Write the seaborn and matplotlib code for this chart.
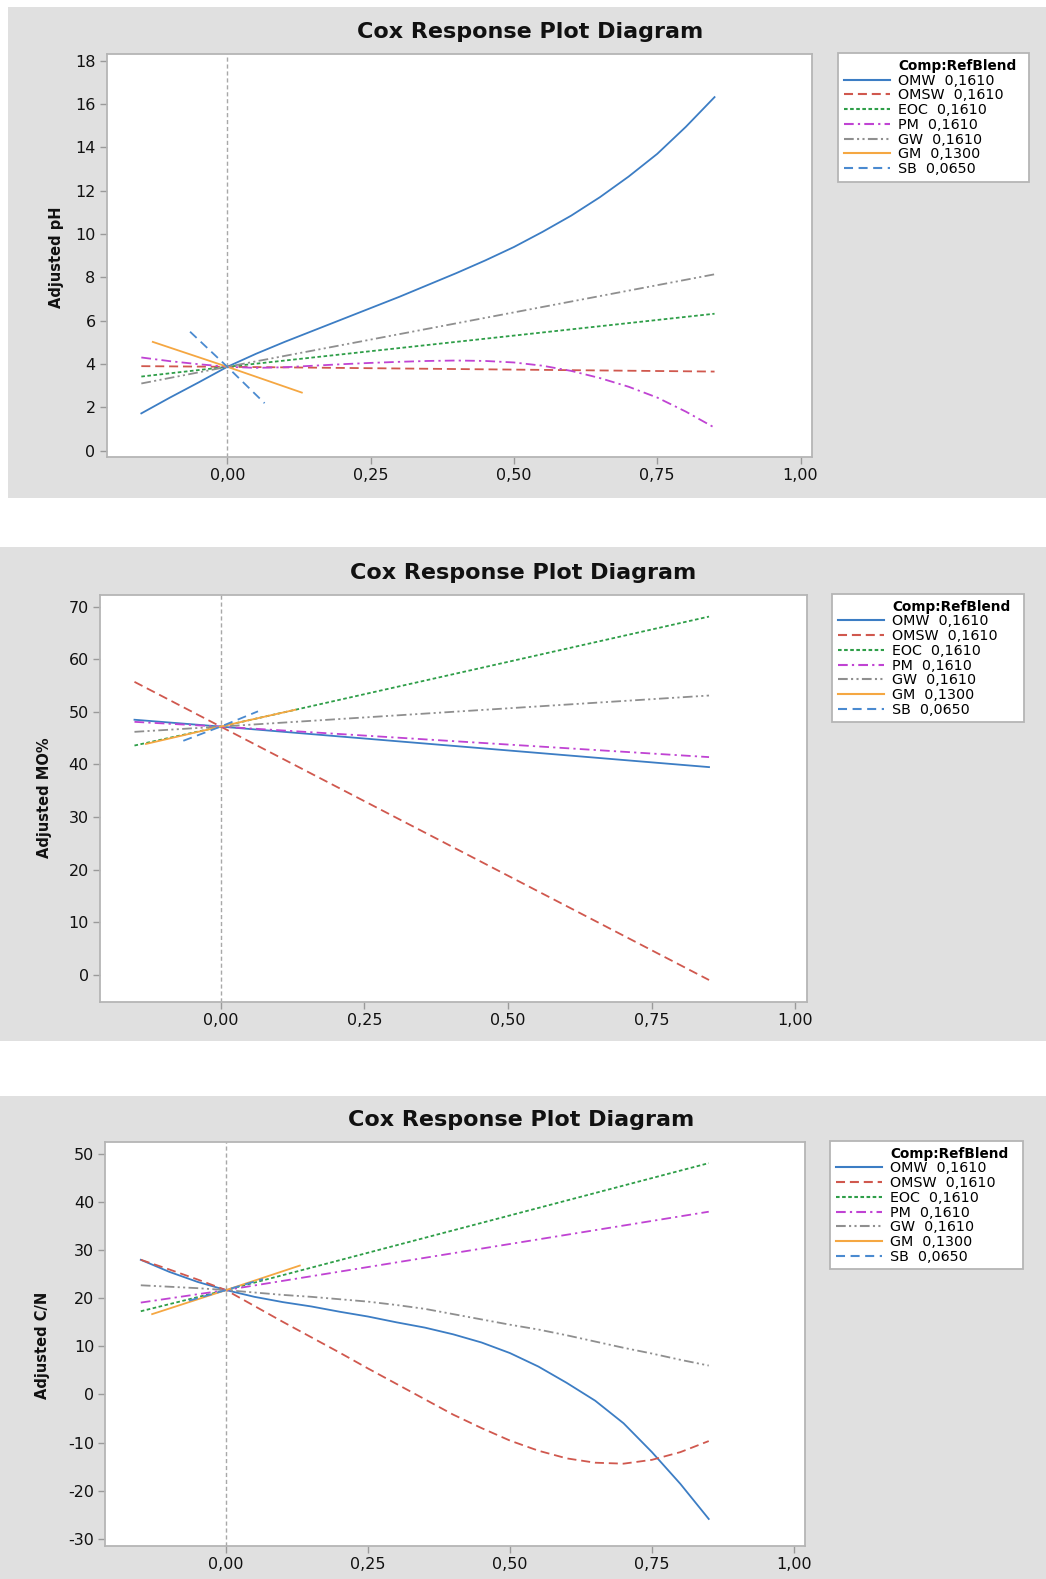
import numpy as np
import pandas as pd
import matplotlib
matplotlib.use("Agg")
import matplotlib.pyplot as plt
import seaborn as sns
from matplotlib.lines import Line2D
from matplotlib.patches import Rectangle

# ---------------- data ----------------
components = ["OMW", "OMSW", "EOC", "PM", "GW", "GM", "SB"]
ref_blend = ["0,1610", "0,1610", "0,1610", "0,1610", "0,1610", "0,1300", "0,0650"]

x_fine = [-0.15, -0.10, -0.05, 0.00, 0.05, 0.10, 0.15, 0.20, 0.25, 0.30, 0.35,
          0.40, 0.45, 0.50, 0.55, 0.60, 0.65, 0.70, 0.75, 0.80, 0.85]
x_wide = [-0.15, 0.00, 0.85]
x_gm = [-0.13, 0.00, 0.13]
x_sb = [-0.065, 0.00, 0.065]

# Panel 1 : Adjusted pH
ph_omw = [1.72, 2.45, 3.15, 3.87, 4.47, 5.02, 5.54, 6.06, 6.58, 7.10, 7.65,
          8.20, 8.78, 9.40, 10.10, 10.85, 11.70, 12.65, 13.70, 14.95, 16.32]
ph_omsw = [3.90, 3.87, 3.65]
ph_eoc = [3.42, 3.87, 6.32]
ph_pm = [4.30, 4.13, 3.99, 3.87, 3.82, 3.85, 3.92, 3.99, 4.05, 4.10, 4.14,
         4.16, 4.14, 4.07, 3.92, 3.68, 3.35, 2.95, 2.45, 1.80, 1.06]
ph_gw = [3.10, 3.87, 8.14]
ph_gm = [5.02, 3.87, 2.68]
ph_sb = [5.49, 3.87, 2.19]

# Panel 2 : Adjusted MO%
mo_omw = [48.5, 47.2, 39.5]
mo_omsw = [55.7, 47.2, -0.95]
mo_eoc = [43.6, 47.2, 68.1]
mo_pm = [48.1, 47.2, 41.4]
mo_gw = [46.2, 47.2, 53.1]
mo_gm = [43.9, 47.2, 50.4]
mo_sb = [44.5, 47.2, 50.1]

# Panel 3 : Adjusted C/N
cn_omw = [28.0, 25.5, 23.4, 21.7, 20.3, 19.2, 18.3, 17.2, 16.2, 15.0, 13.9,
          12.5, 10.8, 8.6, 5.8, 2.4, -1.3, -6.0, -12.0, -18.6, -25.9]
cn_omsw = [28.0, 26.0, 23.9, 21.7, 18.4, 15.1, 11.9, 8.7, 5.4, 2.2, -1.0,
           -4.2, -7.0, -9.6, -11.7, -13.3, -14.2, -14.4, -13.6, -12.0, -9.7]
cn_eoc = [17.3, 21.7, 48.1]
cn_pm = [19.1, 21.7, 38.0]
cn_gw = [22.7, 22.4, 22.1, 21.7, 21.2, 20.7, 20.3, 19.8, 19.3, 18.6, 17.8,
         16.7, 15.6, 14.5, 13.5, 12.3, 11.0, 9.7, 8.5, 7.2, 6.0]
cn_gm = [16.7, 21.7, 26.8]
cn_sb = [19.5, 21.7, 24.0]

x_ticks = [0.00, 0.25, 0.50, 0.75, 1.00]
x_tick_labels = ["0,00", "0,25", "0,50", "0,75", "1,00"]

# ---------------- styles ----------------
colors = {"OMW": "#3C7DC4", "OMSW": "#D0584E", "EOC": "#2E9E48", "PM": "#C043D3",
          "GW": "#8F8F8F", "GM": "#F5A742", "SB": "#4A8AD0"}
dashes = {"OMW": "", "OMSW": (6.5, 3.5), "EOC": (2.6, 1.8), "PM": (7, 3, 1.6, 3),
          "GW": (7, 2.4, 1.5, 2.4, 1.5, 2.4), "GM": "", "SB": (6.5, 4)}

plt.rcParams["lines.scale_dashes"] = False
plt.rcParams["font.family"] = ["DejaVu Sans"]

W, H = 1046, 1579
fig = plt.figure(figsize=(W / 100, H / 100), dpi=100)
fig.patch.set_facecolor("white")


def fx(px):
    return px / W


def fy(py):
    return 1 - py / H


def build_df(xs_list, ys_list):
    frames = []
    for name, xs, ys in zip(components, xs_list, ys_list):
        frames.append(pd.DataFrame({"x": xs, "y": ys, "series": name}))
    return pd.concat(frames, ignore_index=True)


panels = [
    dict(bg=(8, 7, 1046, 498), ax=(106.7, 54, 812, 456.7), xlim=(-0.2104, 1.02),
         ylim=(-0.28, 18.31), yticks=list(range(0, 19, 2)), ylabel="Adjusted pH",
         ylab_pos=(57, 257), title_pos=(530, 32), leg=(838, 53.3, 1029, 183.3),
         xs=[x_fine, x_wide, x_wide, x_fine, x_wide, x_gm, x_sb],
         ys=[ph_omw, ph_omsw, ph_eoc, ph_pm, ph_gw, ph_gm, ph_sb]),
    dict(bg=(0, 547, 1046, 1041), ax=(100, 595, 806.7, 1001.7), xlim=(-0.21, 1.02),
         ylim=(-5.07, 72.2), yticks=list(range(0, 71, 10)), ylabel="Adjusted MO%",
         ylab_pos=(45, 798), title_pos=(523, 573), leg=(832, 594, 1024, 725.7),
         xs=[x_wide, x_wide, x_wide, x_wide, x_wide, x_gm, x_sb],
         ys=[mo_omw, mo_omsw, mo_eoc, mo_pm, mo_gw, mo_gm, mo_sb]),
    dict(bg=(0, 1096, 1046, 1579), ax=(105.3, 1141.7, 805.3, 1545.7), xlim=(-0.2125, 1.02),
         ylim=(-31.46, 52.56), yticks=list(range(-30, 51, 10)), ylabel="Adjusted C/N",
         ylab_pos=(43, 1345), title_pos=(521, 1120), leg=(830, 1141, 1023, 1271.7),
         xs=[x_fine, x_fine, x_wide, x_wide, x_fine, x_gm, x_sb],
         ys=[cn_omw, cn_omsw, cn_eoc, cn_pm, cn_gw, cn_gm, cn_sb]),
]

for p in panels:
    x0, y0, x1, y1 = p["bg"]
    fig.patches.append(Rectangle((fx(x0), fy(y1)), (x1 - x0) / W, (y1 - y0) / H,
                                 transform=fig.transFigure, facecolor="#E0E0E0",
                                 edgecolor="none", zorder=-5))
    l, t, r, b = p["ax"]
    ax = fig.add_axes([fx(l), fy(b), (r - l) / W, (b - t) / H])
    ax.set_facecolor("white")
    df = build_df(p["xs"], p["ys"])
    ax.axvline(0, color="#A8A8A8", lw=1.0, dashes=(3, 2), zorder=1)
    sns.lineplot(data=df, x="x", y="y", hue="series", style="series",
                 hue_order=components, style_order=components,
                 palette=colors, dashes=dashes, estimator=None, sort=False,
                 legend=False, linewidth=1.3, ax=ax)
    ax.set_xlim(*p["xlim"])
    ax.set_ylim(*p["ylim"])
    ax.set_xticks(x_ticks)
    ax.set_xticklabels(x_tick_labels)
    ax.set_yticks(p["yticks"])
    ax.set_yticklabels([str(v) for v in p["yticks"]])
    ax.set_xlabel("")
    ax.set_ylabel(p["ylabel"], fontsize=10.5, fontweight="bold", va="center", color="#111111")
    ax.yaxis.set_label_coords((p["ylab_pos"][0] - l) / (r - l), 1 - (p["ylab_pos"][1] - t) / (b - t))
    for s in ax.spines.values():
        s.set_color("#B5B5B5")
        s.set_linewidth(1.3)
    ax.tick_params(axis="both", colors="#9A9A9A", labelcolor="#111111",
                   labelsize=11.5, length=5, width=1.0, direction="out", pad=3)
    fig.text(fx(p["title_pos"][0]), fy(p["title_pos"][1]), "Cox Response Plot Diagram",
             ha="center", va="center", fontsize=16, fontweight="bold", color="#111111")

    handles = [Line2D([], [], color="none", label="Comp:RefBlend")]
    for name, rb in zip(components, ref_blend):
        d = dashes[name]
        ls = "-" if d == "" else (0, d)
        handles.append(Line2D([], [], color=colors[name], lw=1.5, linestyle=ls,
                              label=f"{name}  {rb}"))
    lx0, ly0, lx1, ly1 = p["leg"]
    leg = fig.legend(handles=handles, loc="upper left",
                     bbox_to_anchor=(fx(lx0), fy(ly1), (lx1 - lx0) / W, (ly1 - ly0) / H),
                     mode="expand", borderaxespad=0, fontsize=10.3, frameon=True,
                     fancybox=False, handlelength=3.2, handletextpad=0.6,
                     labelspacing=0.05, borderpad=0.4)
    fr = leg.get_frame()
    fr.set_edgecolor("#B5B5B5")
    fr.set_linewidth(1.3)
    fr.set_facecolor("white")
    fr.set_alpha(1)
    leg.get_texts()[0].set_fontweight("bold")
    leg.get_texts()[0].set_fontsize(9.8)

fig.savefig("out.png", dpi=100, facecolor="white")
